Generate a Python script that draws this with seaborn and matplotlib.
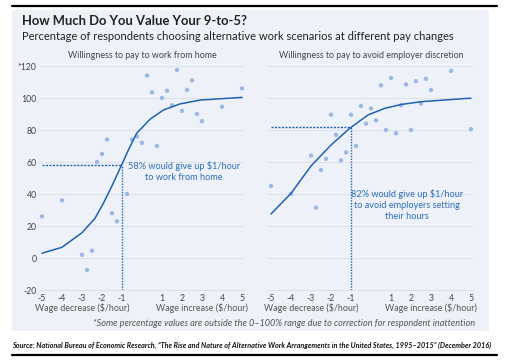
import matplotlib
matplotlib.use("Agg")
import matplotlib.pyplot as plt
import seaborn as sns
import pandas as pd
from matplotlib.patches import Rectangle
from matplotlib.lines import Line2D

# ---- data ----
home_x = [-5, -4, -3, -2.75, -2.5, -2.25, -2, -1.75, -1.5, -1.25, -0.75, -0.5, -0.25, 0,
          0.25, 0.5, 0.75, 1, 1.25, 1.5, 1.75, 2, 2.25, 2.5, 2.75, 3, 4, 5]
home_y = [26, 36, 2, -7.5, 4.5, 60, 65, 74, 28, 23, 40, 74, 76, 72,
          114, 103.5, 70, 100, 104.5, 95.5, 117.5, 92, 105, 111, 90, 85.5, 94.5, 106]
home_fit_x = [-5, -4, -3, -2.35, -1.93, -1.52, -1.02, -0.68, -0.27, 0.4, 1.07, 1.9, 2.9, 4.9, 5]
home_fit_y = [3, 6.7, 15.8, 24.8, 34.2, 44.6, 58.1, 67.5, 77.9, 86.7, 92.5, 96.3, 98.7, 100.3, 100.4]

emp_x = [-5, -4, -3, -2.75, -2.5, -2.25, -2, -1.75, -1.5, -1.25, -1, -0.75, -0.5, -0.25, 0,
         0.25, 0.5, 0.75, 1, 1.25, 1.5, 1.75, 2, 2.25, 2.5, 2.75, 3, 4, 5]
emp_y = [45, 40, 64, 31.5, 55, 62, 89.5, 77, 61, 66, 89.5, 70, 95, 84, 93.5,
         86, 108, 80, 112.5, 78, 95.5, 108.5, 80, 110.5, 96.5, 112, 105, 117, 80.5]
emp_fit_x = [-5, -4, -3, -2, -1.07, -0.15, 0.68, 1.52, 2.52, 4.85, 5]
emp_fit_y = [27.5, 40.4, 57.5, 70.6, 81, 89.4, 93.5, 96, 97.7, 99.8, 99.8]

home_share = 58
emp_share = 82

x_ticks = [-5, -4, -3, -2, -1, 0, 1, 2, 3, 4, 5]
x_labels = ["-5", "-4", "-3", "-2", "-1", "", "1", "2", "3", "4", "5"]
y_ticks = [-20, 0, 20, 40, 60, 80, 100, 120]
y_labels = ["-20", "0", "20", "40", "60", "80", "100", "*120"]

panel_titles = ["Willingness to pay to work from home",
                "Willingness to pay to avoid employer discretion"]
notes = ["58% would give up $1/hour\nto work from home",
         "82% would give up $1/hour\nto avoid employers setting\ntheir hours"]

sns.set_style("white")
plt.rcParams["font.family"] = ["Lato", "DejaVu Sans"]

W, H = 518, 361
fig = plt.figure(figsize=(W / 100, H / 100), dpi=100)
fig.patch.set_facecolor("white")

bg = "#eef2f8"
blue = "#1f62b0"
dot = "#9db8e2"
grid = "#dde2ea"
txt = "#444444"

# light panel + rules
fig.patches.append(Rectangle((12 / W, 1 - 331 / H), 477 / W, 321 / H,
                             transform=fig.transFigure, facecolor=bg, edgecolor="none", zorder=-5))
fig.lines.append(Line2D([12 / W, 497 / W], [1 - 6 / H, 1 - 6 / H], transform=fig.transFigure,
                        color="black", lw=1.6))
fig.lines.append(Line2D([12 / W, 497 / W], [1 - 355 / H, 1 - 355 / H], transform=fig.transFigure,
                        color="black", lw=1.6))

fig.text(22 / W, 1 - 21 / H, "How Much Do You Value Your 9-to-5?", fontsize=9.4,
         fontweight="bold", color="#222222", va="center")
fig.text(22 / W, 1 - 36 / H,
         "Percentage of respondents choosing alternative work scenarios at different pay changes",
         fontsize=8.0, color="#222222", va="center")

panels = [(38, home_x, home_y, home_fit_x, home_fit_y, home_share),
          (267, emp_x, emp_y, emp_fit_x, emp_fit_y, emp_share)]

for i, (left_px, px_, py_, fx, fy, share) in enumerate(panels):
    ax = fig.add_axes([left_px / W, (H - 290) / H, 206 / W, 227.2 / H])
    ax.set_facecolor("none")
    ax.set_zorder(2)
    ax.set_xlim(-5.2, 5.1)
    ax.set_ylim(-20, 122)
    for g in [0, 20, 40, 60, 80, 100, 120]:
        ax.plot([-5.2, 5.05], [g, g], color=grid, lw=0.7, zorder=1)

    pts = pd.DataFrame({"x": px_, "y": py_})
    sns.scatterplot(data=pts, x="x", y="y", ax=ax, color=dot, s=10, edgecolor="none", zorder=3)
    fit = pd.DataFrame({"x": fx, "y": fy})
    sns.lineplot(data=fit, x="x", y="y", ax=ax, color=blue, lw=1.1, sort=False, zorder=4)

    ax.plot([-5, -1], [share, share], color=blue, lw=1.0, ls=(0, (1.5, 1)), zorder=5)
    ax.plot([-1, -1], [-20, share], color=blue, lw=1.0, ls=(0, (1, 1)), zorder=5)

    for s in ["top", "right", "left"]:
        ax.spines[s].set_visible(False)
    ax.spines["bottom"].set_color(grid)
    ax.spines["bottom"].set_linewidth(0.8)
    ax.set_xticks(x_ticks)
    ax.set_xticklabels(x_labels)
    ax.tick_params(axis="x", direction="in", length=4, width=0.6, color="#b8bec8",
                   labelsize=6.3, labelcolor=txt, pad=3)
    ax.set_yticks(y_ticks)
    if i == 0:
        ax.set_yticklabels(y_labels)
        ax.tick_params(axis="y", length=0, labelsize=6.3, labelcolor=txt, pad=1)
    else:
        ax.set_yticklabels([])
        ax.tick_params(axis="y", length=0)
    ax.set_xlabel("")
    ax.set_ylabel("")

    ax.text(0, 124, panel_titles[i], ha="center", va="bottom", fontsize=6.4, color=txt)
    ax.text(-3, -31.5, "Wage decrease ($/hour)", ha="center", va="center", fontsize=6.4,
            color="#555555", transform=ax.transData, clip_on=False)
    ax.text(3, -31.5, "Wage increase ($/hour)", ha="center", va="center", fontsize=6.4,
            color="#555555", transform=ax.transData, clip_on=False)

    if i == 0:
        ax.text(2.1, 54, notes[0], ha="center", va="center", fontsize=6.6, color="#2a6ebb",
                linespacing=1.25)
    else:
        ax.text(1.8, 33, notes[1], ha="center", va="center", fontsize=6.6, color="#2a6ebb",
                linespacing=1.25)

fig.text(475 / W, 1 - 324 / H,
         "*Some percentage values are outside the 0\u2013100% range due to correction for respondent inattention",
         ha="right", va="center", fontsize=6.6, style="italic", color="#555555")
fig.text(12 / W, 1 - 345.5 / H,
         "Source: National Bureau of Economic Research, \u201cThe Rise and Nature of Alternative Work "
         "Arrangements in the United States, 1995\u20132015\u201d (December 2016)",
         ha="left", va="center", fontsize=5.2, fontweight="bold", style="italic", color="#111111")

fig.savefig("out.png", dpi=100)
